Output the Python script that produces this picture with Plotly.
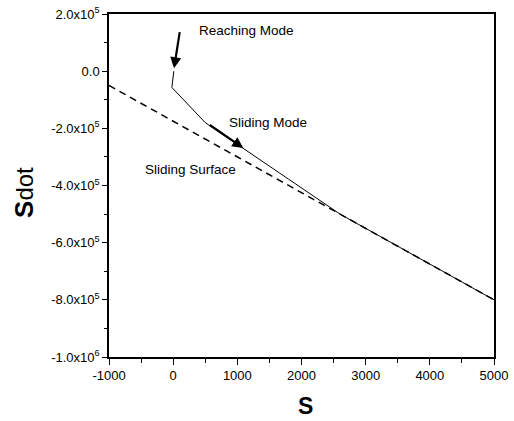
import plotly.graph_objects as go

# Data
surface_s = [-1000, 5000]
surface_sdot = [-50000, -800000]

traj_s = [10, -20, 500, 1100, 1800, 2600, 5000]
traj_sdot = [0, -57000, -180000, -270000, -378000, -500000, -800000]

# arrows: (tail_s, tail_sdot, head_s, head_sdot)
reach_arrow = [106, 141700, 13, 10000]
slide_arrow = [547, -184700, 1093, -269000]

labels = ["Reaching Mode", "Sliding Mode", "Sliding Surface"]
label_s = [367, 834, -476]
label_sdot = [141400, -180200, -342900]

x_ticks = [-1000, 0, 1000, 2000, 3000, 4000, 5000]
x_ticktext = ["-1000", "0", "1000", "2000", "3000", "4000", "5000"]
y_ticks = [200000, 0, -200000, -400000, -600000, -800000, -1000000]
y_ticktext = ["2.0x10<sup>5</sup>", "0.0", "-2.0x10<sup>5</sup>", "-4.0x10<sup>5</sup>",
              "-6.0x10<sup>5</sup>", "-8.0x10<sup>5</sup>", "-1.0x10<sup>6</sup>"]

FONT = "Arial, Liberation Sans, sans-serif"

fig = go.Figure()
fig.add_trace(go.Scatter(x=surface_s, y=surface_sdot, mode="lines",
                         line=dict(color="black", width=1.5, dash="7px,5px"),
                         showlegend=False, hoverinfo="skip"))
fig.add_trace(go.Scatter(x=traj_s, y=traj_sdot, mode="lines",
                         line=dict(color="black", width=1),
                         showlegend=False, hoverinfo="skip"))

for a in (reach_arrow, slide_arrow):
    fig.add_annotation(x=a[2], y=a[3], ax=a[0], ay=a[1], xref="x", yref="y",
                       axref="x", ayref="y", showarrow=True, arrowhead=2,
                       arrowsize=1, arrowwidth=2.2, arrowcolor="black", text="",
                       standoff=0)

for t, xs, ys in zip(labels, label_s, label_sdot):
    fig.add_annotation(x=xs, y=ys, xref="x", yref="y", text=t, showarrow=False,
                       xanchor="left", yanchor="middle",
                       font=dict(family=FONT, size=13.5, color="black"))

fig.add_annotation(x=0.51, y=-0.1863, xref="paper", yref="paper", text="<b>S</b>",
                   showarrow=False, xanchor="center", yanchor="bottom",
                   font=dict(family=FONT, size=23, color="black"))
fig.add_annotation(x=-0.221, y=0.481, xref="paper", yref="paper",
                   text="<b>S</b><span style='font-size:24px'>dot</span>",
                   showarrow=False, xanchor="center", yanchor="middle", textangle=-90,
                   font=dict(family=FONT, size=26, color="black"))

fig.update_layout(
    width=514, height=421,
    margin=dict(l=109, r=20, t=14, b=64, autoexpand=False),
    paper_bgcolor="white", plot_bgcolor="white",
    font=dict(family=FONT, size=12, color="black"),
    showlegend=False,
)
fig.update_xaxes(range=[-1000, 5000], tickmode="array", tickvals=x_ticks,
                 ticktext=x_ticktext, automargin=False,
                 ticks="outside", ticklen=6, tickwidth=1.2, tickcolor="black",
                 showline=True, linecolor="black", linewidth=1.5, mirror=True,
                 showgrid=False, zeroline=False,
                 minor=dict(ticks="outside", ticklen=4, dtick=500, tick0=-1000,
                            tickcolor="black", tickwidth=1.2, showgrid=False),
                 tickfont=dict(family=FONT, size=13))
fig.update_yaxes(range=[-1000000, 200000], tickmode="array", tickvals=y_ticks,
                 ticktext=y_ticktext, ticklabeloverflow="allow", automargin=False,
                 ticks="outside", ticklen=5, tickwidth=1.2, tickcolor="black",
                 showline=True, linecolor="black", linewidth=1.5, mirror=True,
                 showgrid=False, zeroline=False,
                 minor=dict(ticks="outside", ticklen=3, dtick=100000, tick0=0,
                            tickcolor="black", tickwidth=1.2, showgrid=False),
                 tickfont=dict(family=FONT, size=13))

fig.write_html("out.html", config={"displayModeBar": False},
               post_script="document.body.style.margin='0';")
